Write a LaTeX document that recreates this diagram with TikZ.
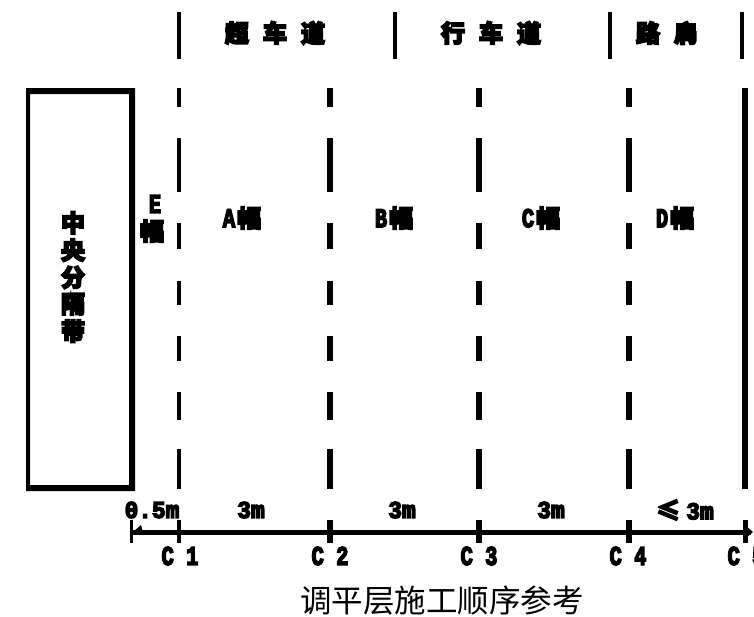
\documentclass[tikz,border=0pt]{standalone}
\usepackage{fontspec}
\setmainfont{Liberation Sans}
\newfontfamily\blobcjk[BoldFeatures={RawFeature={embolden=7}}]{Noto Sans CJK SC}
\newfontfamily\blobmono[BoldFeatures={RawFeature={embolden=6}}]{Liberation Mono}
\newfontfamily\titlecjk{Noto Sans CJK SC}
\newcommand{\zh}[1]{{\fontsize{24}{24}\selectfont\blobcjk\bfseries #1}}
\newcommand{\lt}[1]{\scalebox{0.76}[1]{\fontsize{27}{27}\selectfont\blobmono\bfseries #1}}
\newcommand{\dm}[1]{\scalebox{0.95}[1]{\fontsize{24}{24}\selectfont\blobmono\bfseries #1}}
\newcommand{\gap}{\hspace{14pt}}
\tikzset{
  lbl/.style={inner sep=0pt,outer sep=0pt,text=black,align=center},
  sep/.style={line width=4pt,black},
  lanea/.style={line width=4pt,black,solid},
  laneb/.style={line width=6pt,black,solid},
  tick/.style={line width=#1,black},
  axis/.style={line width=5pt,black}
}
\begin{document}
\begin{tikzpicture}[x=1pt,y=-1pt]
\useasboundingbox (0,0) rectangle (754,616);
% median box
\fill[black,even odd rule] (26,88) rectangle (135,491) (30,94) rectangle (129,485);
% top separators
\foreach \n/\x in {a/179,b/395,c/610,d/742}{
  \coordinate (t\n) at (\x,12); \coordinate (u\n) at (\x,59);
  \draw[sep] (t\n) -- (u\n);
}
% lane lines
\foreach \a/\b in {88/107,138/192,223/249,281/305,336/361,392/420,449/489}{
  \draw[lanea] (179,\a) -- (179,\b);
  \draw[laneb] (330,\a) -- (330,\b);
  \draw[laneb] (479,\a) -- (479,\b);
  \draw[laneb] (629,\a) -- (629,\b);
}
\coordinate (edgetop) at (745,88); \coordinate (edgebot) at (745,489);
\draw[laneb] (edgetop) -- (edgebot);
% headers
\node[lbl] (h1) at (275,33) {\zh{超\gap 车\gap 道}};
\node[lbl] (h2) at (491,33) {\zh{行\gap 车\gap 道}};
\node[lbl] (h3) at (667,33) {\zh{路\gap 肩}};
% strip labels
\node[lbl] (median) at (73,277) {\zh{中}\\[3.5pt]\zh{央}\\[3.5pt]\zh{分}\\[3.5pt]\zh{隔}\\[3.5pt]\zh{带}};
\node[lbl] (eletter) at (155,204) {\lt{E}};
\node[lbl] (efu) at (152,231) {\zh{幅}};
\node[lbl] (sa) at (242,218) {\lt{A}\hspace{2pt}\zh{幅}};
\node[lbl] (sb) at (394,218) {\lt{B}\hspace{2pt}\zh{幅}};
\node[lbl] (sc) at (541,218) {\lt{C}\hspace{2pt}\zh{幅}};
\node[lbl] (sd) at (675,218) {\lt{D}\hspace{2pt}\zh{幅}};
% dimension axis
\coordinate (ax0) at (131,532);
\coordinate (ax1) at (751,532);
\draw[axis] (ax0) -- (ax1);
\foreach \n/\x/\w in {0/131/3pt,1/179/4pt,2/330/6pt,3/479/6pt,4/629/6pt,5/745/5pt}{
  \coordinate (ka\n) at (\x,520); \coordinate (kb\n) at (\x,543);
  \draw[tick=\w] (ka\n) -- (kb\n);
}
\fill[black] (133,532) -- (143,532) -- (141,525) -- cycle;
\fill[black] (753,532) -- (746,526) -- (746,538) -- cycle;
% dimensions
\node[lbl] (d0) at (152,510) {\dm{0.5m}};
\node[lbl] (d1) at (251,510) {\dm{3m}};
\node[lbl] (d2) at (402,510) {\dm{3m}};
\node[lbl] (d3) at (551,510) {\dm{3m}};
\node[lbl] (d4) at (685,510) {\zh{≤}\hspace{6pt}\dm{3m}};
% stations
\node[lbl] (c1) at (180,556) {\lt{C 1}};
\node[lbl] (c2) at (330,556) {\lt{C 2}};
\node[lbl] (c3) at (479,556) {\lt{C 3}};
\node[lbl] (c4) at (628,556) {\lt{C 4}};
\node[lbl] (c5) at (746,556) {\lt{C 5}};
% title
\node[lbl] (title) at (442,601) {\fontsize{31.5}{32}\selectfont\titlecjk 调平层施工顺序参考};
\end{tikzpicture}
\end{document}
